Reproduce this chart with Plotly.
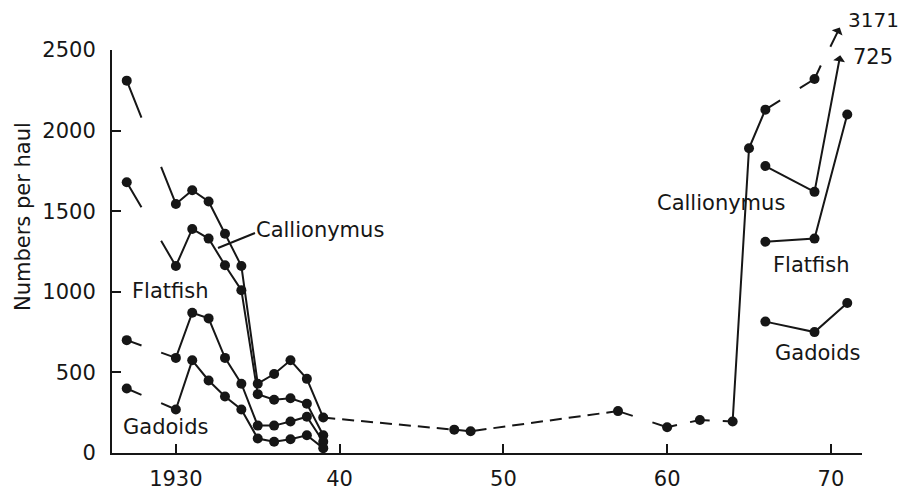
import math
import plotly.graph_objects as go

# ---- data: catch rates (numbers per haul) by survey year ----
years_top = [1927, 1930, 1931, 1932, 1933, 1934, 1935, 1936, 1937, 1938, 1939,
             1947, 1948, 1957, 1960, 1962, 1964, 1965, 1966, 1969]
values_top = [2310, 1545, 1630, 1560, 1360, 1160, 430, 490, 575, 460, 220,
              145, 135, 260, 160, 205, 195, 1890, 2130, 2320]
links_top = (["broken"] + ["solid"] * 9 + ["dash"] * 3 + ["broken"] * 3
             + ["solid"] * 2 + ["broken"])
offscale_top = 3171

years_second = [1927, 1930, 1931, 1932, 1933, 1934, 1935, 1936, 1937, 1938, 1939,
                1966, 1969]
values_second = [1680, 1160, 1390, 1330, 1165, 1010, 365, 330, 340, 305, 110,
                 1780, 1620]
links_second = ["broken"] + ["solid"] * 9 + [None] + ["solid"]
offscale_second = 725

years_flatfish = [1927, 1930, 1931, 1932, 1933, 1934, 1935, 1936, 1937, 1938, 1939,
                  1966, 1969, 1971]
values_flatfish = [700, 590, 870, 835, 590, 430, 170, 170, 195, 225, 70,
                   1310, 1330, 2100]
links_flatfish = ["broken"] + ["solid"] * 9 + [None] + ["solid"] * 2

years_gadoids = [1927, 1930, 1931, 1932, 1933, 1934, 1935, 1936, 1937, 1938, 1939,
                 1966, 1969, 1971]
values_gadoids = [400, 270, 575, 450, 350, 270, 90, 70, 85, 110, 30,
                  815, 750, 930]
links_gadoids = ["broken"] + ["solid"] * 9 + [None] + ["solid"] * 2

x_tickvals = [1930, 1940, 1950, 1960, 1970]
x_ticktext = ["1930", "40", "50", "60", "70"]
y_tickvals = [0, 500, 1000, 1500, 2000, 2500]

# ---- layout geometry and style ----
FIG_W, FIG_H = 898, 491
ML, MR, MT, MB = 112, 36, 50, 38
X_RANGE = [1926.1, 1971.9]
Y_RANGE = [0, 2500]
PW = FIG_W - ML - MR
PH = FIG_H - MT - MB
PX_PER_YEAR = PW / (X_RANGE[1] - X_RANGE[0])
PX_PER_UNIT = PH / (Y_RANGE[1] - Y_RANGE[0])

INK = "#161616"
FONT = "DejaVu Sans"
FS = 21
LW = 2
MARKER = 10
DASH = "12px,7px"


def seg_px_len(x0, y0, x1, y1):
    return math.hypot((x1 - x0) * PX_PER_YEAR, (y1 - y0) * PX_PER_UNIT)


def broken_dash(length):
    # stub from the first point, a gap, then the rest up to the second point
    return f"{0.3 * length:.1f}px,{0.4 * length:.1f}px,{length:.1f}px"


def paper_x(px):
    return (px - ML) / PW


def paper_y(py):
    return 1 - (py - MT) / PH


fig = go.Figure()


def add_series(years, values, links):
    run_x, run_y, run_style = [], [], None

    def flush():
        if run_style and len(run_x) > 1:
            fig.add_trace(go.Scatter(
                x=list(run_x), y=list(run_y), mode="lines",
                line=dict(color=INK, width=LW,
                          dash="solid" if run_style == "solid" else DASH),
                hoverinfo="skip", showlegend=False))

    for i, style in enumerate(links):
        x0, y0, x1, y1 = years[i], values[i], years[i + 1], values[i + 1]
        if style == "broken":
            flush()
            run_x, run_y, run_style = [], [], None
            fig.add_trace(go.Scatter(
                x=[x0, x1], y=[y0, y1], mode="lines",
                line=dict(color=INK, width=LW,
                          dash=broken_dash(seg_px_len(x0, y0, x1, y1))),
                hoverinfo="skip", showlegend=False))
        elif style is None:
            flush()
            run_x, run_y, run_style = [], [], None
        else:
            if style != run_style:
                flush()
                run_x, run_y, run_style = [x0], [y0], style
            run_x.append(x1)
            run_y.append(y1)
    flush()

    fig.add_trace(go.Scatter(
        x=years, y=values, mode="markers",
        marker=dict(color=INK, size=MARKER),
        hoverinfo="skip", showlegend=False))


add_series(years_top, values_top, links_top)
add_series(years_second, values_second, links_second)
add_series(years_flatfish, values_flatfish, links_flatfish)
add_series(years_gadoids, values_gadoids, links_gadoids)

annotations = []

# broken arrow from the last plotted point towards the off-scale value
annotations.append(dict(
    x=years_top[-1], y=values_top[-1], xref="x", yref="y",
    ax=7, ay=-15, text="", showarrow=True, arrowhead=0,
    arrowwidth=LW, arrowcolor=INK))
annotations.append(dict(
    x=years_top[-1], y=values_top[-1], xref="x", yref="y",
    ax=26, ay=-53, text="", showarrow=True, arrowside="start",
    arrowhead=2, arrowsize=1.2, arrowwidth=LW, arrowcolor=INK, standoff=36))
annotations.append(dict(
    x=years_second[-1], y=values_second[-1], xref="x", yref="y",
    ax=26, ay=-138, text="", showarrow=True, arrowside="start",
    arrowhead=2, arrowsize=1.2, arrowwidth=LW, arrowcolor=INK))

# off-scale values
for text, px, py, size in [(str(offscale_top), 846, 20, 20),
                           (str(offscale_second), 851, 57, FS)]:
    annotations.append(dict(
        x=paper_x(px), y=paper_y(py), xref="paper", yref="paper",
        text=text, showarrow=False, xanchor="left", yanchor="middle",
        font=dict(family=FONT, size=size, color=INK)))

# group labels
for text, px, py in [("Callionymus", 254, 230), ("Flatfish", 130, 291),
                     ("Gadoids", 121, 427), ("Callionymus", 655, 203),
                     ("Flatfish", 771, 265), ("Gadoids", 773, 353)]:
    annotations.append(dict(
        x=paper_x(px), y=paper_y(py), xref="paper", yref="paper",
        text=text, showarrow=False, xanchor="left", yanchor="middle",
        font=dict(family=FONT, size=FS, color=INK)))

# y-axis title
annotations.append(dict(
    x=paper_x(23), y=paper_y(217), xref="paper", yref="paper",
    text="Numbers per haul", textangle=-90, showarrow=False,
    xanchor="center", yanchor="middle",
    font=dict(family=FONT, size=FS, color=INK)))

shapes = [dict(
    type="line", xref="paper", yref="paper",
    x0=paper_x(255), y0=paper_y(233), x1=paper_x(218), y1=paper_y(248),
    line=dict(color=INK, width=LW))]

fig.update_layout(
    width=FIG_W, height=FIG_H,
    margin=dict(l=ML, r=MR, t=MT, b=MB, autoexpand=False),
    paper_bgcolor="white", plot_bgcolor="white",
    font=dict(family=FONT, size=FS, color=INK),
    annotations=annotations, shapes=shapes,
    xaxis=dict(range=X_RANGE, tickvals=x_tickvals, ticktext=x_ticktext,
               showgrid=False, zeroline=False, showline=True,
               linecolor=INK, linewidth=LW, ticks="inside", ticklen=9,
               tickwidth=LW, tickcolor=INK, ticklabelstandoff=6),
    yaxis=dict(range=Y_RANGE, tickvals=y_tickvals,
               showgrid=False, zeroline=False, showline=True,
               linecolor=INK, linewidth=LW, ticks="inside", ticklen=9,
               tickwidth=LW, tickcolor=INK, ticklabelstandoff=10),
)

fig.write_html("out.html")
